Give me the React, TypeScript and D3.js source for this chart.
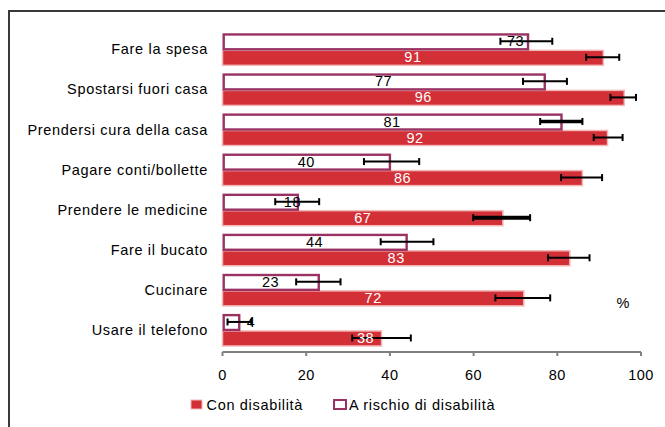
import React from "react";
import * as d3 from "d3";

const categories = [
  "Fare la spesa",
  "Spostarsi fuori casa",
  "Prendersi cura della casa",
  "Pagare conti/bollette",
  "Prendere le medicine",
  "Fare il bucato",
  "Cucinare",
  "Usare il telefono",
];

// "A rischio di disabilità" (outline bars)
const riskValues = [73, 77, 81, 40, 18, 44, 23, 4];
const riskLow = [66.4, 71.8, 75.9, 33.8, 12.6, 37.8, 17.6, 1.2];
const riskHigh = [78.8, 82.3, 86, 47, 23.1, 50.4, 28.2, 6.9];

// "Con disabilità" (red bars)
const disValues = [91, 96, 92, 86, 67, 83, 72, 38];
const disLow = [86.9, 92.7, 88.7, 80.9, 59.9, 77.8, 65.2, 31];
const disHigh = [94.8, 98.8, 95.6, 90.7, 73.5, 87.7, 78.3, 45];

const xTicks = [0, 20, 40, 60, 80, 100];
const seriesNames = ["Con disabilità", "A rischio di disabilità"];

// layout tweaks: some value labels sit off-centre in the original
const riskLabelAt: Record<number, number> = { 0: 70, 4: 16.7, 7: 6.8 };
const disLabelAt: Record<number, number> = { 7: 34.2 };
const riskErrWidth: Record<number, number> = { 2: 3.5 };
const disErrWidth: Record<number, number> = { 4: 4 };

const RED = "#d32f36";
const RED_EDGE = "#f2b8b8";
const PURPLE = "#993262";
const FONT = "'Liberation Sans', Arial, sans-serif";
const FS = 14.5;
const LS = 0.5;
const CAT_LS = 0.68;

export default function App() {
  const x = d3.scaleLinear().domain([0, 100]).range([222.5, 641]);
  const y = d3
    .scaleBand<string>()
    .domain(categories)
    .range([29.25, 350])
    .paddingInner(0.2)
    .paddingOuter(0.1);
  const bw = y.bandwidth();
  const half = bw / 2;
  const axisY = 352;

  const errBar = (lo: number, hi: number, cy: number, w: number, key: string) => (
    <g key={key} stroke="#000" strokeWidth={w}>
      <line x1={x(lo)} x2={x(hi)} y1={cy} y2={cy} />
      <line x1={x(lo)} x2={x(lo)} y1={cy - 3.5} y2={cy + 3.5} strokeWidth={2} />
      <line x1={x(hi)} x2={x(hi)} y1={cy - 3.5} y2={cy + 3.5} strokeWidth={2} />
    </g>
  );

  return (
    <svg
      width={665}
      height={427}
      style={{ position: "absolute", left: 0, top: 0, background: "#fff" }}
      fontFamily={FONT}
    >
      <rect x={0} y={0} width={665} height={427} fill="#fff" />
      {/* frame */}
      <rect x={9} y={11} width={700} height={500} fill="none" stroke="#3a3a3a" strokeWidth={2} />

      {categories.map((c, i) => {
        const top = y(c)!;
        const riskY = top;
        const disY = top + half;
        const rcy = riskY + half / 2;
        const dcy = disY + half / 2;
        const rLab = riskLabelAt[i] !== undefined ? x(riskLabelAt[i]) : (x(0) + x(riskValues[i])) / 2;
        const dLab = disLabelAt[i] !== undefined ? x(disLabelAt[i]) : (x(0) + x(disValues[i])) / 2;
        return (
          <g key={c}>
            <text
              x={208}
              y={top + half + FS * 0.35}
              textAnchor="end"
              fontSize={FS}
              letterSpacing={CAT_LS}
              fill="#000"
            >
              {c}
            </text>
            {/* red bar */}
            <rect
              x={x(0)}
              y={disY + 1}
              width={x(disValues[i]) - x(0)}
              height={half - 1}
              fill={RED}
              stroke={RED_EDGE}
              strokeWidth={1.5}
            />
            {/* outline bar */}
            <rect
              x={x(0) + 1.2}
              y={riskY + 1.2}
              width={x(riskValues[i]) - x(0) - 1.2}
              height={half - 1.2}
              fill="#fff"
              stroke={PURPLE}
              strokeWidth={2.4}
            />
            {errBar(riskLow[i], riskHigh[i], rcy, riskErrWidth[i] ?? 2, "re" + i)}
            {errBar(disLow[i], disHigh[i], dcy, disErrWidth[i] ?? 2, "de" + i)}
            <text
              x={rLab}
              y={rcy + FS * 0.35}
              textAnchor="middle"
              fontSize={FS}
              letterSpacing={LS}
              fill="#000"
            >
              {riskValues[i]}
            </text>
            <text
              x={dLab}
              y={dcy + FS * 0.35}
              textAnchor="middle"
              fontSize={FS}
              letterSpacing={LS}
              fill="#fff"
            >
              {disValues[i]}
            </text>
          </g>
        );
      })}

      {/* x axis */}
      <line x1={x(0)} x2={x(100)} y1={axisY} y2={axisY} stroke="#808080" strokeWidth={2} />
      {xTicks.map((t) => (
        <g key={t}>
          <line x1={x(t)} x2={x(t)} y1={axisY} y2={axisY + 4} stroke="#808080" strokeWidth={2} />
          <text
            x={x(t)}
            y={375 + FS * 0.35}
            textAnchor="middle"
            fontSize={FS}
            letterSpacing={LS}
            fill="#000"
          >
            {t}
          </text>
        </g>
      ))}

      <text x={623} y={303 + FS * 0.35} textAnchor="middle" fontSize={FS} fill="#000">
        %
      </text>

      {/* legend */}
      <rect x={191} y={400} width={11} height={9} fill={RED} stroke={RED_EDGE} strokeWidth={1} />
      <text x={206.5} y={404.5 + FS * 0.35} fontSize={FS} letterSpacing={CAT_LS} fill="#000">
        {seriesNames[0]}
      </text>
      <rect x={334} y={400} width={12} height={9} fill="#fff" stroke={PURPLE} strokeWidth={2} />
      <text x={349} y={404.5 + FS * 0.35} fontSize={FS} letterSpacing={CAT_LS} fill="#000">
        {seriesNames[1]}
      </text>
    </svg>
  );
}
